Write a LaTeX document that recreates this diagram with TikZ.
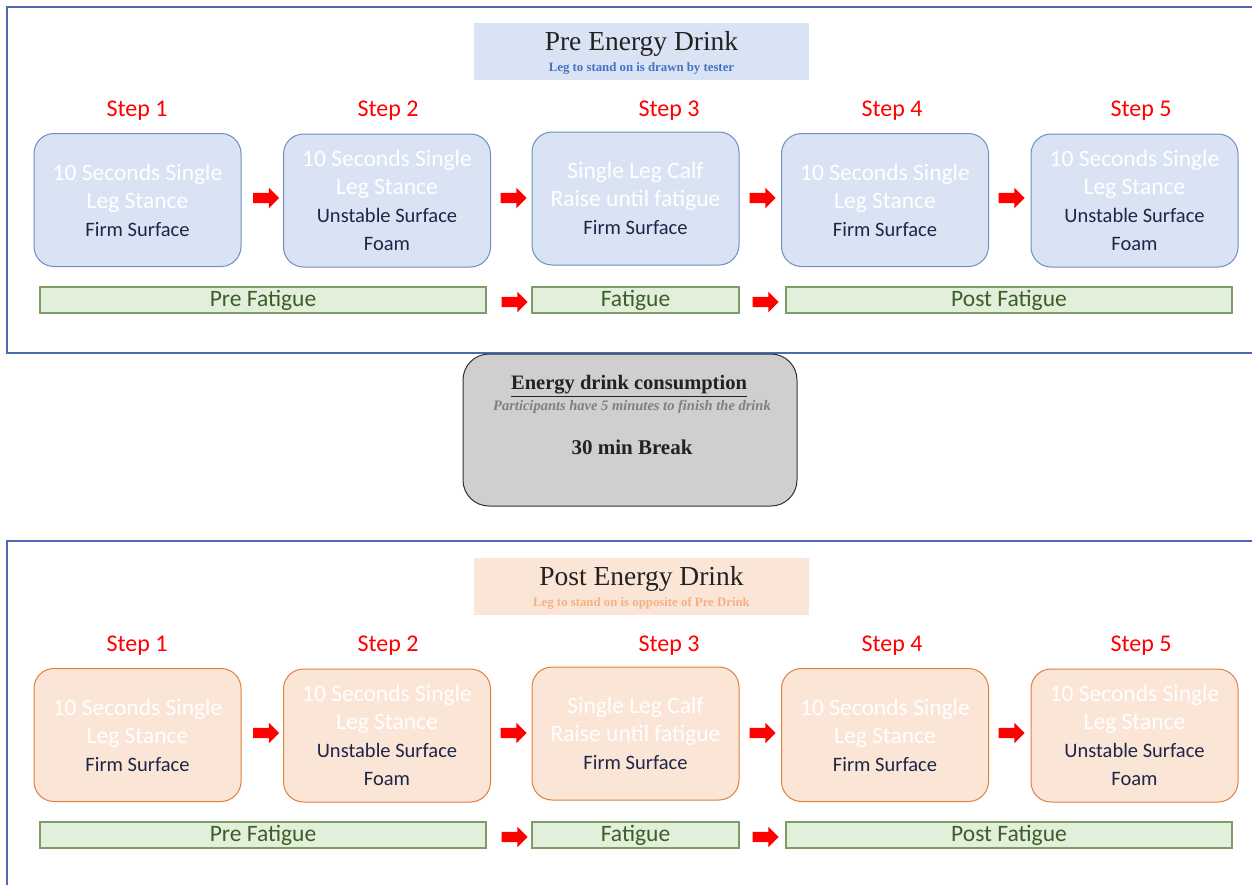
\documentclass[tikz,border=0pt]{standalone}
\usepackage{fontspec}
\setmainfont{Liberation Serif}
\newfontfamily\calfont{Carlito}
\usetikzlibrary{shapes.arrows}
\definecolor{frameblue}{HTML}{4A6CAE}
\definecolor{bluefill}{HTML}{DAE3F3}
\definecolor{bluedraw}{HTML}{6F8DC4}
\definecolor{subblue}{HTML}{4472C4}
\definecolor{orangefill}{HTML}{FBE5D6}
\definecolor{orangedraw}{HTML}{E0803F}
\definecolor{suborange}{HTML}{F4B183}
\definecolor{greenfill}{HTML}{E2EFDA}
\definecolor{greendraw}{HTML}{7E9C68}
\definecolor{greentext}{HTML}{3B5F2A}
\definecolor{navytext}{HTML}{1C2748}
\definecolor{steplbl}{HTML}{FF0000}
\definecolor{greyfill}{HTML}{D0CECE}
\definecolor{titletext}{HTML}{222222}
\definecolor{italgrey}{HTML}{808080}
\tikzset{
  frame/.style={draw=frameblue, line width=1.6pt},
  stepbox/.style={rectangle, rounded corners=20pt, minimum width=207pt, minimum height=133pt, line width=1pt, inner sep=0pt, align=center, font={\calfont\fontsize{23.5}{28}\selectfont}, text=white},
  bluebox/.style={stepbox, fill=bluefill, draw=bluedraw},
  orangebox/.style={stepbox, fill=orangefill, draw=orangedraw},
  steplabel/.style={text=steplbl, font={\calfont\fontsize{24}{28}\selectfont}},
  redarrow/.style={single arrow, fill=red, draw=none, minimum height=26pt, single arrow head extend=5pt, inner sep=0pt, single arrow head indent=0pt},
  phasebar/.style={rectangle, fill=greenfill, draw=greendraw, line width=1.2pt, minimum height=26pt, inner sep=0pt, text=greentext, font={\calfont\fontsize{23.5}{26}\selectfont}},
  titlebox/.style={rectangle, minimum width=335pt, minimum height=57pt, inner sep=0pt},
  titletxt/.style={text=titletext, font={\fontsize{27.5}{30}\selectfont}},
  subtxt/.style={font={\bfseries\fontsize{12.8}{14}\selectfont}},
}
\newcommand{\navy}[1]{{\color{navytext}\fontsize{20.5}{25}\selectfont #1}}
\newcommand{\shaft}{\rule{0pt}{10pt}}
\newcommand{\panel}[7]{%
  % #1 prefix, #2 box style, #3 title fill, #4 title, #5 subtitle, #6 subtitle colour, #7 y offset
  \begin{scope}[shift={(0,#7)}]
    \node[titlebox, fill=#3] (#1title) at (641.5,51.5) {};
    \node[titletxt] (#1ttxt) at (641.5,44) {#4};
    \node[subtxt, text=#6] (#1stxt) at (641.5,68) {#5};
    \node[steplabel] (#1s1) at (137,111) {Step 1};
    \node[steplabel] (#1s2) at (388,111) {Step 2};
    \node[steplabel] (#1s3) at (669,111) {Step 3};
    \node[steplabel] (#1s4) at (892,111) {Step 4};
    \node[steplabel] (#1s5) at (1141,111) {Step 5};
    \node[#2] (#1b1) at (137.5,200) {10 Seconds Single\\Leg Stance\\\navy{Firm Surface}};
    \node[#2] (#1b2) at (387,200.5) {10 Seconds Single\\Leg Stance\\\navy{Unstable Surface}\\\navy{Foam}};
    \node[#2] (#1b3) at (635.5,198.5) {Single Leg Calf\\Raise until fatigue\\\navy{Firm Surface}};
    \node[#2] (#1b4) at (885,200) {10 Seconds Single\\Leg Stance\\\navy{Firm Surface}};
    \node[#2] (#1b5) at (1134.5,200.5) {10 Seconds Single\\Leg Stance\\\navy{Unstable Surface}\\\navy{Foam}};
    \node[redarrow] (#1a1) at (263.5,198) {\shaft};
    \node[redarrow] (#1a2) at (511,198) {\shaft};
    \node[redarrow] (#1a3) at (760,198) {\shaft};
    \node[redarrow] (#1a4) at (1009,198) {\shaft};
    \node[phasebar, minimum width=446pt] (#1p1) at (263,300) {Pre Fatigue};
    \node[phasebar, minimum width=207pt] (#1p2) at (635.5,300) {Fatigue};
    \node[phasebar, minimum width=446pt] (#1p3) at (1009,300) {Post Fatigue};
    \node[redarrow] (#1a5) at (512,302) {\shaft};
    \node[redarrow] (#1a6) at (763,302) {\shaft};
  \end{scope}}
\begin{document}
\begin{tikzpicture}[x=1pt,y=-1pt]
  \useasboundingbox[fill=white] (0,0) rectangle (1252,884);
  \coordinate (f1a) at (1262,7);
  \coordinate (f1b) at (7,7);
  \coordinate (f1c) at (7,353);
  \coordinate (f1d) at (1262,353);
  \draw[frame] (f1a) -- (f1b) -- (f1c) -- (f1d);
  \coordinate (f2a) at (1262,541);
  \coordinate (f2b) at (7,541);
  \coordinate (f2c) at (7,892);
  \draw[frame] (f2a) -- (f2b) -- (f2c);
  \panel{t}{bluebox}{bluefill}{Pre Energy Drink}{Leg to stand on is drawn by tester}{subblue}{0}
  \panel{u}{orangebox}{orangefill}{Post Energy Drink}{Leg to stand on is opposite of Pre Drink}{suborange}{535}
  \node[rectangle, rounded corners=26pt, fill=greyfill, draw=black!80, line width=1pt, minimum width=334pt, minimum height=152pt] (mid) at (630,430) {};
  \node[font={\bfseries\fontsize{20.5}{24}\selectfont}, text=titletext] (midt) at (629,386) {\underline{Energy drink consumption}};
  \node[font={\itshape\bfseries\fontsize{14.5}{17}\selectfont}, text=italgrey] (mids) at (632,407) {Participants have 5 minutes to finish the drink};
  \node[font={\bfseries\fontsize{21}{24}\selectfont}, text=titletext] (midb) at (632,447) {30 min Break};
\end{tikzpicture}
\end{document}
